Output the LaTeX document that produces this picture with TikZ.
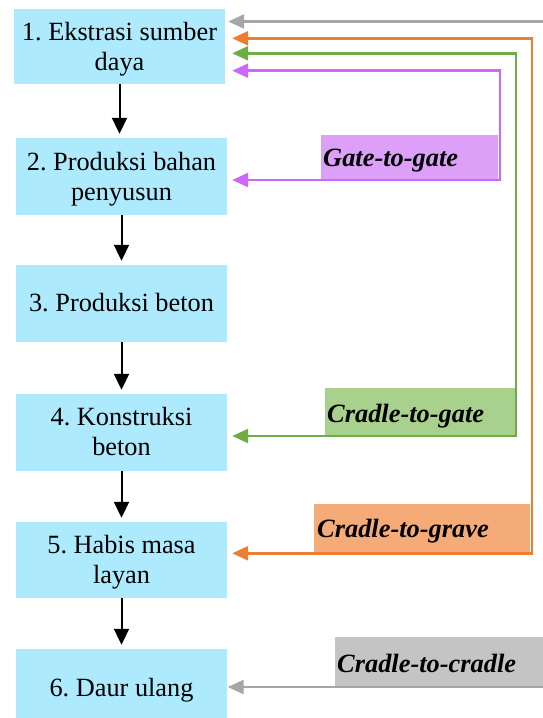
\documentclass[tikz,border=0pt]{standalone}
\usepackage{fontspec}
\setmainfont{Liberation Serif}
\usetikzlibrary{arrows.meta,calc}
\frenchspacing
\definecolor{boxfill}{RGB}{174,234,253}
\definecolor{purpL}{RGB}{204,102,255}
\definecolor{purpF}{RGB}{221,160,248}
\definecolor{greenL}{RGB}{112,173,71}
\definecolor{greenF}{RGB}{169,209,142}
\definecolor{orangeL}{RGB}{237,125,49}
\definecolor{orangeF}{RGB}{244,171,120}
\definecolor{grayL}{RGB}{166,166,166}
\definecolor{grayF}{RGB}{196,196,196}
\begin{document}
\begin{tikzpicture}[x=1pt,y=-1pt,
  stage/.style={fill=boxfill, inner sep=0pt, minimum width=211pt},
  stagetext/.style={inner sep=0pt, align=center, font=\frenchspacing\fontsize{26.3}{30.5}\selectfont},
  flow/.style={-{Triangle[length=16pt,width=15pt]}, line width=2pt, black, shorten >=4pt},
  loopline/.style={line width=2.5pt, {Triangle[length=16pt,width=14pt]}-{Triangle[length=16pt,width=14pt]}},
  oneway/.style={line width=2.5pt, -{Triangle[length=16pt,width=14pt]}},
  tagbox/.style={inner sep=0pt, anchor=north west},
  tag/.style={inner sep=0pt, anchor=base west, font=\fontsize{26.4}{30}\selectfont\bfseries\itshape}
]
\useasboundingbox (0,0) rectangle (543,718);

% stages
\node[stage, minimum height=75pt] (b1) at (119.5,46.5) {};
\node[stage, minimum height=77pt] (b2) at (121.5,176.5) {};
\node[stage, minimum height=77pt] (b3) at (121.5,303.5) {};
\node[stage, minimum height=77pt] (b4) at (121.5,432.5) {};
\node[stage, minimum height=76pt] (b5) at (121.5,560) {};
\node[stage, minimum height=69pt] (b6) at (121.5,683.5) {};

\node[stagetext] (t1) at ($(b1.center)+(0,2.6)$) {1. Ekstrasi sumber\\daya};
\node[stagetext] (t2) at ($(b2.center)+(0,2.6)$) {2. Produksi bahan\\penyusun};
\node[stagetext] (t3) at ($(b3.center)+(0,-0.8)$) {3. Produksi beton};
\node[stagetext] (t4) at ($(b4.center)+(0,-1.2)$) {4. Konstruksi\\beton};
\node[stagetext] (t5) at ($(b5.center)+(0,2)$) {5. Habis masa\\layan};
\node[stagetext] (t6) at ($(b6.center)+(0,7)$) {6. Daur ulang};

% flow arrows
\draw[flow] (b1.south) -- (b1.south |- b2.north);
\draw[flow] (b2.south) -- (b2.south |- b3.north);
\draw[flow] (b3.south) -- (b3.south |- b4.north);
\draw[flow] (b4.south) -- (b4.south |- b5.north);
\draw[flow] (b5.south) -- (b5.south |- b6.north);

% label boxes
\node[tagbox, fill=purpF, minimum width=177pt, minimum height=44pt] (gbox) at (321,135) {};
\node[tag] (gtxt) at ($(gbox.south west)+(2,-13)$) {Gate-to-gate};
\node[tagbox, fill=greenF, minimum width=191pt, minimum height=47pt] (cgbox) at (325,388) {};
\node[tag] (cgtxt) at ($(cgbox.south west)+(2,-13.3)$) {Cradle-to-gate};
\node[tagbox, fill=orangeF, minimum width=216pt, minimum height=48pt] (crbox) at (314,504) {};
\node[tag] (crtxt) at ($(crbox.south west)+(3,-15)$) {Cradle-to-grave};
\node[tagbox, fill=grayF, minimum width=208pt, minimum height=50pt] (ccbox) at (335,637) {};
\node[tag] (cctxt) at ($(ccbox.south west)+(2,-15)$) {Cradle-to-cradle};

% loop connectors
\coordinate (pTop) at (500,70.7);
\coordinate (pBot) at (500,180);
\draw[loopline, purpL, shorten <=7pt, shorten >=5pt]
  (pTop -| b1.east) -- (pTop) -- (pBot) -- (pBot -| b2.east);

\coordinate (gTop) at (516,53.3);
\coordinate (gBot) at (516,436);
\draw[loopline, greenL, shorten <=7pt, shorten >=5pt]
  (gTop -| b1.east) -- (gTop) -- (gBot) -- (gBot -| b4.east);

\coordinate (oTop) at (532,38.3);
\coordinate (oBot) at (532,553.3);
\draw[loopline, orangeL, shorten <=7pt, shorten >=5pt]
  (oTop -| b1.east) -- (oTop) -- (oBot) -- (oBot -| b5.east);

\coordinate (yTop) at (543,21.5);
\coordinate (yBot) at (543,687);
\draw[oneway, grayL, shorten >=3pt] (yTop) -- (yTop -| b1.east);
\draw[oneway, grayL, shorten >=0.5pt] (yBot) -- (yBot -| b6.east);
\end{tikzpicture}
\end{document}
